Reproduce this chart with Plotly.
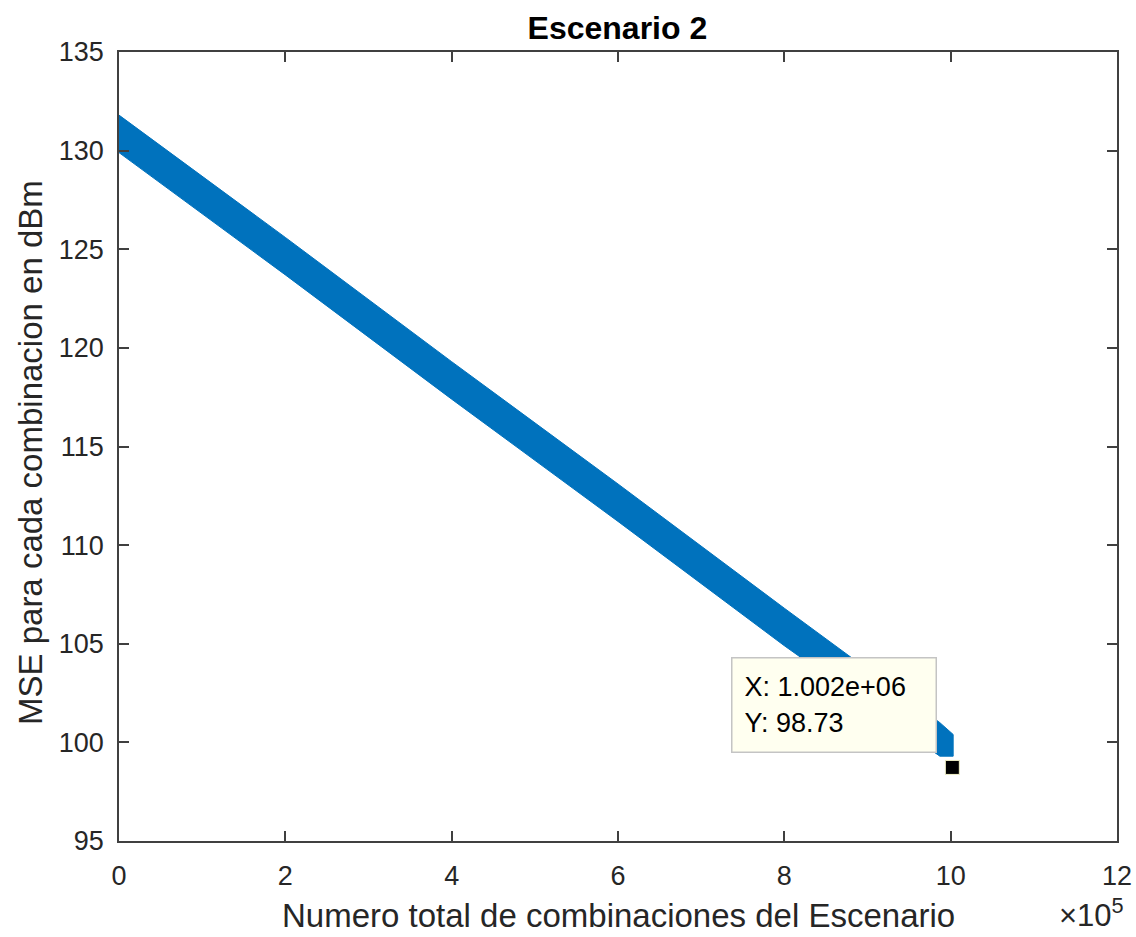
import plotly.graph_objects as go

# Envelope of the dense MSE trace (upper / lower edge of the band)
band_x = [0, 2e5, 4e5, 6e5, 8e5, 9.87e5, 1.003e6]
band_upper = [131.8, 125.6, 119.3, 113.1, 106.8, 101.0, 100.4]
band_lower = [129.9, 123.7, 117.4, 111.2, 104.9, 99.3, 99.3]

# Data tip on the last combination
tip_x = 1.002e6
tip_y = 98.73

x_tick_vals = [0, 2e5, 4e5, 6e5, 8e5, 10e5, 12e5]
x_tick_text = ["0", "2", "4", "6", "8", "10", "12"]
y_tick_vals = [95, 100, 105, 110, 115, 120, 125, 130, 135]

BLUE = "#0072BD"
AXC = "#404040"
TXT = "#262626"
FONT = "Liberation Sans, Arial, sans-serif"

fig = go.Figure()

# band drawn as a closed polygon: upper edge forward, lower edge back
fig.add_trace(go.Scatter(
    x=band_x + band_x[::-1],
    y=band_upper + band_lower[::-1],
    fill="toself",
    fillcolor=BLUE,
    line=dict(color=BLUE, width=1),
    mode="lines",
    hoverinfo="skip",
    showlegend=False,
))

fig.add_trace(go.Scatter(
    x=[tip_x], y=[tip_y],
    mode="markers",
    marker=dict(symbol="square", size=14, color="black",
                line=dict(color="#F2F2C8", width=1)),
    showlegend=False,
))

fig.add_annotation(
    x=tip_x, y=tip_y, xref="x", yref="y",
    text=f"X: {tip_x:.3e}" + f"<br>Y: {tip_y:.2f}",
    showarrow=True, arrowcolor="rgba(0,0,0,0)", arrowwidth=0.1,
    ax=-15, ay=-14,
    xanchor="right", yanchor="bottom", align="left", valign="middle",
    width=179, height=69,
    font=dict(family=FONT, size=27, color="black"),
    bgcolor="#FFFFF0", bordercolor="#C4C4C4", borderwidth=1.5, borderpad=12,
)

axis_common = dict(
    showline=True, linecolor=AXC, linewidth=1.5, mirror="ticks",
    ticks="inside", ticklen=10, tickwidth=1.5, tickcolor=AXC,
    showgrid=False, zeroline=False, automargin=False,
    tickfont=dict(family=FONT, size=27, color=TXT),
)

fig.update_xaxes(range=[0, 12e5], tickvals=x_tick_vals, ticktext=x_tick_text,
                 ticklabelstandoff=10, **axis_common)
fig.update_yaxes(range=[95, 135], tickvals=y_tick_vals,
                 ticklabelstandoff=8, **axis_common)

fig.add_annotation(
    text="Numero total de combinaciones del Escenario",
    xref="paper", yref="paper", x=0.5, y=-0.094,
    showarrow=False, xanchor="center", yanchor="middle",
    font=dict(family=FONT, size=33, color=TXT),
)
fig.add_annotation(
    text="MSE para cada combinacion en dBm",
    xref="paper", yref="paper", x=-0.0892, y=0.493, textangle=-90,
    showarrow=False, xanchor="center", yanchor="middle",
    font=dict(family=FONT, size=33, color=TXT),
)
fig.add_annotation(
    text="×10<sup>5</sup>",
    xref="paper", yref="paper", x=1.009, y=-0.119,
    showarrow=False, xanchor="right", yanchor="bottom",
    font=dict(family=FONT, size=31, color=TXT),
)

fig.update_layout(
    width=1136, height=937,
    margin=dict(l=119, r=19, t=52, b=96, autoexpand=False),
    paper_bgcolor="white", plot_bgcolor="white",
    title=dict(text="<b>Escenario 2</b>", x=0.5435, xanchor="center",
               y=1 - 28 / 937, yref="container", yanchor="middle",
               font=dict(family=FONT, size=32, color="black")),
    showlegend=False,
)

fig.write_html("out.html")
